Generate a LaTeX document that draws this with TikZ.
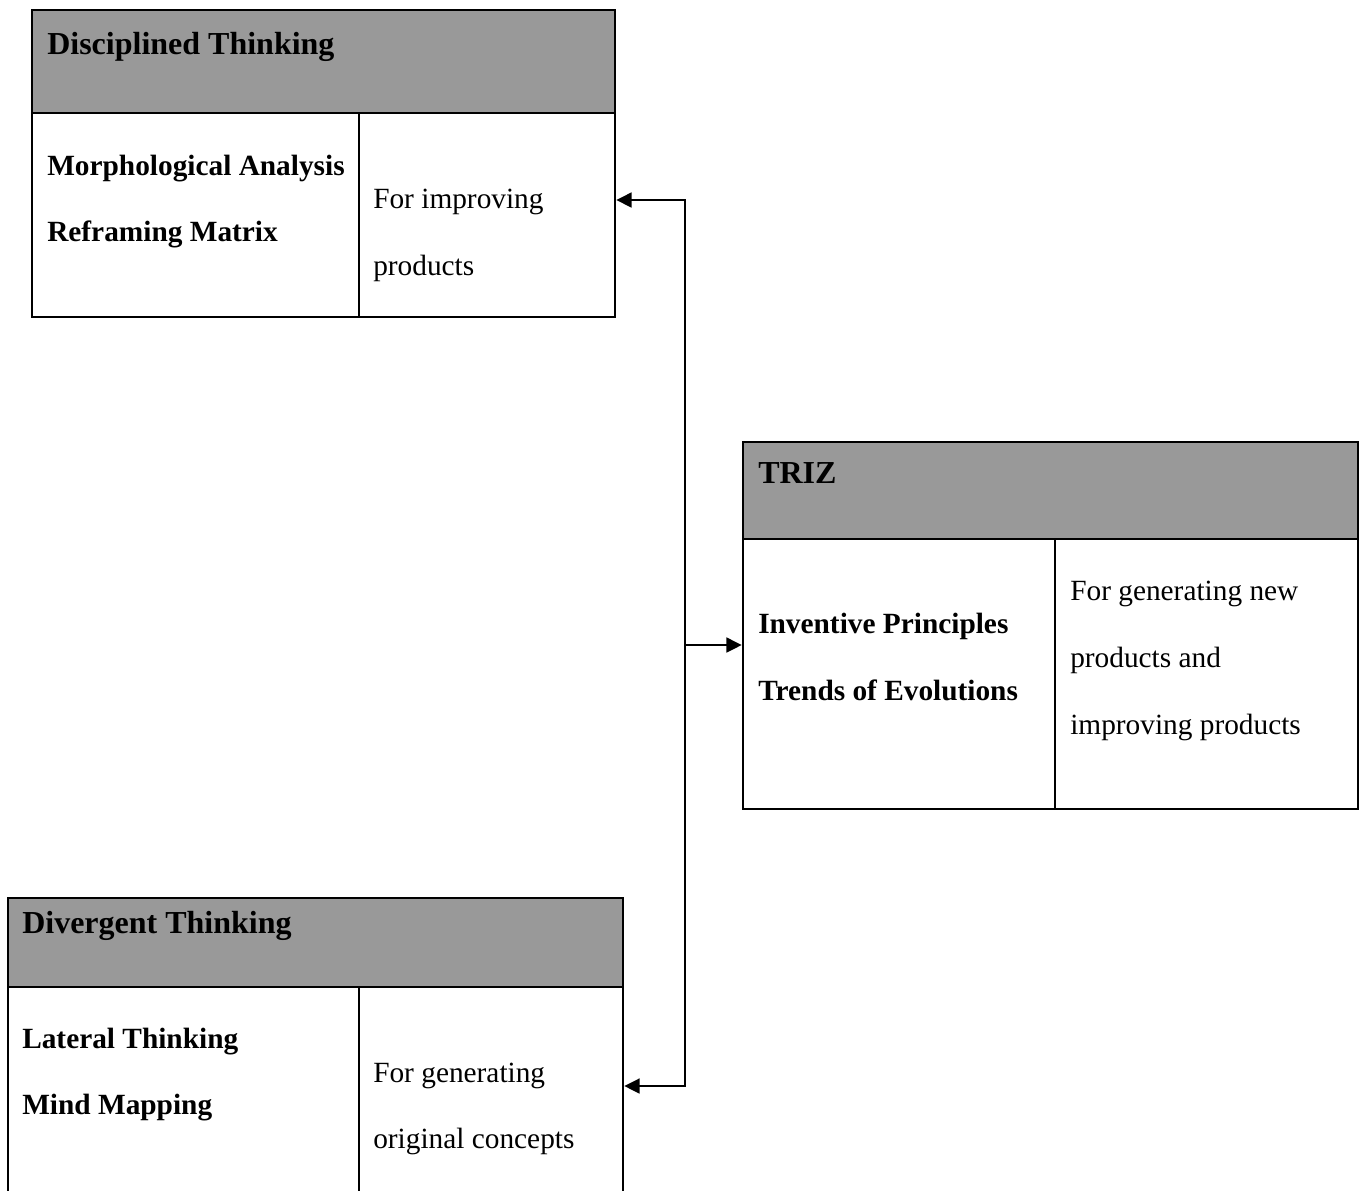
\documentclass[tikz,border=0pt]{standalone}
\usepackage{fontspec}
\setmainfont{Liberation Serif}
\usetikzlibrary{arrows.meta}
\tikzset{
  boxframe/.style={draw=black, line width=1.8pt, fill=none, inner sep=0pt},
  headfill/.style={fill=headgray},
  divider/.style={draw=black, line width=1.8pt},
  txt/.style={anchor=base west, inner sep=0pt, font=\fontsize{22}{26}\selectfont},
  btxt/.style={txt, font=\fontsize{22}{26}\selectfont\bfseries},
  htxt/.style={txt, font=\fontsize{24}{28}\selectfont\bfseries},
  conn/.style={draw=black, line width=1.8pt},
  arr/.style={conn, -{Triangle[length=11.5pt,width=11pt]}}
}
\definecolor{headgray}{HTML}{999999}
\begin{document}
\begin{tikzpicture}[x=0.75pt,y=-0.75pt]
\useasboundingbox (0,0) rectangle (1360,1190);
\clip (0,0) rectangle (1360,1190);
% header fills
\fill[headfill] (32,10) rectangle (615,113);
\fill[headfill] (743,442) rectangle (1358,539);
\fill[headfill] (8,898) rectangle (623,987);
% box frames
\node[boxframe, minimum width=437.25pt, minimum height=230.25pt] (dt) at (323.5,163.5) {};
\node[boxframe, minimum width=461.25pt, minimum height=275.25pt] (tr) at (1050.5,625.5) {};
\node[boxframe, minimum width=461.25pt, minimum height=234pt] (dv) at (315.5,1054) {};
% header lines and dividers
\draw[divider] (32,113) -- (615,113);
\draw[divider] (359,113) -- (359,317);
\draw[divider] (743,539) -- (1358,539);
\draw[divider] (1055,539) -- (1055,809);
\draw[divider] (8,987) -- (623,987);
\draw[divider] (359,987) -- (359,1210);
% texts
\node[htxt] (dth) at (47,54) {Disciplined Thinking};
\node[btxt] (dt1) at (47,175) {Morphological Analysis};
\node[btxt] (dt2) at (47,241) {Reframing Matrix};
\node[txt] (dt3) at (373,208) {For improving};
\node[txt] (dt4) at (373,275) {products};
\node[htxt] (trh) at (758,483) {TRIZ};
\node[btxt] (tr1) at (758,633) {Inventive Principles};
\node[btxt] (tr2) at (758,700) {Trends of Evolutions};
\node[txt] (tr3) at (1070,600) {For generating new};
\node[txt] (tr4) at (1070,667) {products and};
\node[txt] (tr5) at (1070,734) {improving products};
\node[htxt] (dvh) at (22,933) {Divergent Thinking};
\node[btxt] (dv1) at (22,1048) {Lateral Thinking};
\node[btxt] (dv2) at (22,1114) {Mind Mapping};
\node[txt] (dv3) at (373,1082) {For generating};
\node[txt] (dv4) at (373,1148) {original concepts};
% connectors
\coordinate (j1) at (685,200);
\coordinate (j2) at (685,645);
\coordinate (j3) at (685,1086);
\draw[conn, line cap=rect] (j1) -- (j3);
\draw[arr] (j1) -- (dt.east |- j1);
\draw[arr] (j2) -- (tr.west |- j2);
\draw[arr] (j3) -- (dv.east |- j3);
\end{tikzpicture}
\end{document}
